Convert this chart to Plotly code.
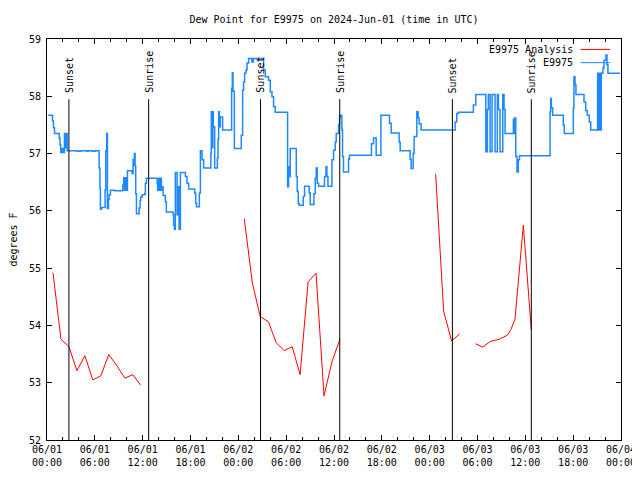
import pandas as pd
import plotly.graph_objects as go

START = pd.Timestamp("2024-06-01 00:00")
END = pd.Timestamp("2024-06-04 00:00")

# Observed dew point (E9975), hours after 2024-06-01 00:00 UTC
OBS_HOURS = [0.15, 0.69, 0.81, 0.94, 1.53, 1.63, 1.73, 1.90, 2.07, 2.19, 2.32, 2.44, 2.53,
             3.82, 4.20, 4.95, 5.20, 5.70, 6.08, 6.54, 6.64, 6.70, 6.83, 7.29, 7.37, 7.49,
             7.58, 7.71, 7.79, 7.96, 8.50, 9.50, 9.62, 9.71, 9.80, 9.96, 10.09, 10.68,
             10.80, 10.88, 10.96, 11.05, 11.13, 11.22, 11.55, 11.68, 11.75, 11.93, 12.26,
             12.34, 12.47, 13.81, 13.88, 14.01, 14.10, 14.22, 14.35, 14.44, 14.56, 14.85,
             14.97, 15.81, 15.89, 15.98, 16.10, 16.32, 16.44, 16.57, 16.73, 17.36, 17.57,
             17.77, 18.52, 18.65, 18.77, 19.11, 19.24, 19.45, 19.65, 20.55, 20.61, 20.74,
             20.80, 20.86, 21.03, 21.37, 21.45, 21.53, 21.62, 21.74, 22.03, 23.16, 23.25,
             23.33, 23.50, 24.37, 24.54, 24.66, 24.79, 24.96, 25.09, 25.29, 25.71, 25.88,
             27.17, 27.38, 27.79, 28.01, 28.22, 28.42, 28.63, 30.18, 30.30, 30.39, 30.51,
             31.27, 31.39, 31.52, 31.64, 32.14, 32.31, 32.89, 33.02, 33.48, 33.65, 33.77,
             33.90, 34.06, 34.81, 34.99, 35.11, 35.24, 35.74, 35.94, 36.15, 36.28, 36.57,
             36.69, 36.78, 36.99, 37.07, 37.19, 37.82, 37.94, 40.70, 40.95, 41.29, 41.88,
             42.96, 43.17, 44.17, 44.30, 45.55, 45.68, 45.93, 46.05, 46.39, 46.55, 46.68,
             46.93, 51.19, 51.40, 51.60, 53.48, 53.78, 55.04, 55.24, 55.36, 55.58, 55.83,
             56.20, 56.49, 56.62, 56.83, 57.17, 57.33, 57.46, 58.50, 58.58, 58.67, 58.80,
             58.96, 59.12, 59.27, 63.10, 63.18, 63.26, 63.43, 64.76, 64.89, 66.02, 66.10,
             66.23, 66.35, 67.36, 67.57, 67.77, 68.02, 68.20, 69.07, 69.15, 69.27, 69.40,
             69.53, 69.74, 69.86, 70.11, 70.24, 70.36, 71.87]
OBS_DEWPT = [57.67, 57.57, 57.45, 57.35, 57.27, 57.15, 57.02, 57.09, 57.02, 57.35, 57.10, 57.35, 57.05,
             57.04, 57.05, 57.04, 57.05, 57.04, 57.05, 56.75, 56.40, 56.03, 56.06, 56.37, 57.05, 57.35,
             56.04, 56.20, 56.28, 56.36, 56.35, 56.45, 56.58, 56.36, 56.58, 56.36, 56.70, 56.65,
             56.90, 56.80, 57.00, 56.78, 56.30, 55.95, 56.05, 56.18, 56.24, 56.28, 56.30,
             56.48, 56.57, 56.48, 56.36, 56.57, 56.36, 56.57, 56.36, 56.42, 56.27, 56.16,
             55.98, 55.93, 55.75, 55.68, 56.67, 55.93, 56.42, 55.68, 56.67, 56.60, 56.48,
             56.38, 56.31, 56.13, 56.07, 56.31, 57.05, 56.89, 56.75, 57.00, 57.73, 57.10,
             57.73, 57.47, 56.75, 56.92, 57.25, 57.73, 57.47, 57.64, 57.41, 58.14, 58.41,
             58.09, 57.09, 57.32, 58.11, 58.25, 58.40, 58.46, 58.58, 58.66, 58.60, 58.66,
             58.46, 58.34, 58.28, 58.08, 57.99, 57.82, 57.72, 56.42, 56.77, 56.60, 57.09,
             56.60, 56.34, 56.13, 56.10, 56.25, 56.43, 56.31, 56.11, 56.30, 56.57, 56.75,
             56.48, 56.43, 56.60, 56.77, 56.60, 56.43, 56.89, 57.06, 57.20, 57.35, 57.50,
             57.64, 57.67, 57.41, 56.95, 56.68, 56.90, 56.97, 57.17, 57.27, 56.97, 57.67,
             57.53, 57.36, 57.20, 57.05, 56.90, 56.74, 57.00, 57.30, 57.73, 57.62, 57.52,
             57.41, 57.55, 57.70, 57.72, 57.85, 58.03, 57.03, 57.77, 58.03, 57.03, 58.03,
             57.03, 58.03, 57.77, 57.03, 58.03, 57.77, 57.35, 57.60, 57.35, 57.62, 56.95,
             56.68, 56.89, 56.96, 57.73, 57.96, 57.80, 57.67, 57.50, 57.35, 57.80, 58.34,
             58.20, 58.03, 57.90, 57.75, 57.67, 57.55, 57.41, 58.40, 57.41, 58.40, 57.41,
             58.40, 58.50, 58.63, 58.72, 58.55, 58.40, 58.40]

# Analysis dew point (None = no analysis)
ANL_HOURS = [0.75, 1.75, 2.75, 3.75, 4.75, 5.75, 6.75, 7.75, 8.75, 9.75, 10.75, 11.75,
             12.25,
             24.75, 25.75, 26.75, 27.75, 28.75, 29.75, 30.75, 31.75, 32.75, 33.75, 34.75,
             35.75, 36.75,
             42.0,
             48.75, 49.75, 50.75, 51.75,
             52.75,
             53.75, 54.65, 55.60, 56.75, 57.75, 58.20, 58.70, 59.75, 60.75]
ANL_DEWPT = [54.92, 53.76, 53.63, 53.21, 53.47, 53.05, 53.12, 53.49, 53.30, 53.08, 53.14, 52.96,
             None,
             55.86, 54.75, 54.15, 54.07, 53.70, 53.56, 53.63, 53.14, 54.76, 54.91, 52.77,
             53.37, 53.76,
             None,
             56.64, 54.25, 53.73, 53.85,
             None,
             53.68, 53.62, 53.72, 53.76, 53.83, 53.93, 54.11, 55.75, 53.92]

SUN_HOURS = [2.75, 12.75, 26.78, 36.72, 50.85, 60.75]
SUN_LABELS = ["Sunset", "Sunrise", "Sunset", "Sunrise", "Sunset", "Sunrise"]
SUN_LINE_TOP = 57.95

def to_time(hours):
    return [START + pd.Timedelta(hours=h) for h in hours]

FONT = "DejaVu Sans Mono"
BLUE = "#1e88ff"
RED = "#ff0000"

fig = go.Figure()
fig.add_trace(go.Scatter(x=to_time(ANL_HOURS), y=ANL_DEWPT, mode="lines",
                         name="E9975 Analysis", line=dict(color=RED, width=1),
                         showlegend=False))
fig.add_trace(go.Scatter(x=to_time(OBS_HOURS), y=OBS_DEWPT, mode="lines",
                         name="E9975", line=dict(color=BLUE, width=1.5, shape="hv"),
                         showlegend=False))

shapes = []
annotations = []
for h, lab in zip(SUN_HOURS, SUN_LABELS):
    t = START + pd.Timedelta(hours=h)
    shapes.append(dict(type="line", xref="x", yref="y", x0=t, x1=t, y0=52, y1=SUN_LINE_TOP,
                       line=dict(color="black", width=1)))
    annotations.append(dict(x=t, y=SUN_LINE_TOP, xref="x", yref="y", text=lab,
                            textangle=-90, showarrow=False, xanchor="center",
                            yanchor="bottom", yshift=4,
                            font=dict(family=FONT, size=10, color="black")))

# gnuplot-style key: text right-aligned, sample line to the right
key = [("E9975 Analysis", RED, 0.974), ("E9975", BLUE, 0.941)]
for txt, col, yy in key:
    annotations.append(dict(x=0.919, y=yy, xref="paper", yref="paper", text=txt,
                            showarrow=False, xanchor="right", yanchor="middle",
                            font=dict(family=FONT, size=10, color="black")))
    shapes.append(dict(type="line", xref="paper", yref="paper", x0=0.930, x1=0.981,
                       y0=yy, y1=yy, line=dict(color=col, width=1)))

# the page places the figure 8px in from the top-left corner, so it is 632x472
fig.update_layout(
    width=632, height=472,
    margin=dict(l=39, r=19, t=31, b=40),
    paper_bgcolor="white", plot_bgcolor="white",
    font=dict(family=FONT, size=10, color="black"),
    title=dict(text="Dew Point for E9975 on 2024-Jun-01 (time in UTC)",
               x=0.5, xref="paper", y=0.9746, yanchor="middle",
               font=dict(family=FONT, size=10, color="black")),
    shapes=shapes, annotations=annotations,
    showlegend=False,
)
fig.update_xaxes(
    type="date", range=[START, END], automargin=False,
    tickmode="linear", tick0=START, dtick=6 * 3600 * 1000,
    tickformat="%m/%d<br>%H:%M",
    ticks="inside", ticklen=5, tickcolor="black",
    minor=dict(dtick=2 * 3600 * 1000, ticks="inside", ticklen=3, tickcolor="black"),
    showline=True, linecolor="black", linewidth=1, mirror="ticks",
    showgrid=False, zeroline=False,
    tickfont=dict(family=FONT, size=10, color="black"),
)
fig.update_yaxes(
    range=[52, 59], tickmode="linear", tick0=52, dtick=1, automargin=False,
    ticks="inside", ticklen=5, tickcolor="black",
    showline=True, linecolor="black", linewidth=1, mirror="ticks",
    showgrid=False, zeroline=False, ticklabelstandoff=3,
    title=dict(text="degrees F", font=dict(family=FONT, size=10, color="black"), standoff=10),
    tickfont=dict(family=FONT, size=10, color="black"),
)

fig.write_html("out.html")
